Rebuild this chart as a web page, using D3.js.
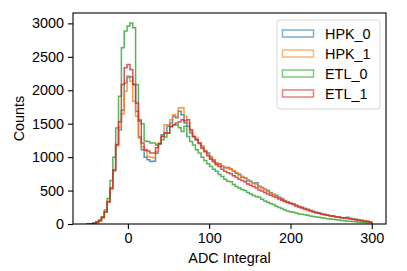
<!DOCTYPE html>
<html>
<head>
<meta charset="utf-8">
<script src="https://cdn.jsdelivr.net/npm/d3@7"></script>
<style>
  body { margin: 0; background: #fff; }
  text { font-family: "Liberation Sans", Arial, sans-serif; }
</style>
</head>
<body>
<svg id="chart" width="407" height="271"></svg>
<script>
// histogram: 100 bins over [-50, 300]
const binStart = -50
const binWidth = 3.5

const seriesNames = ['HPK_0', 'HPK_1', 'ETL_0', 'ETL_1']
const seriesColors = ['#1f77b4', '#ff7f0e', '#2ca02c', '#d62728']

const hpk0 = [
  1, 4, 10, 24, 48, 92, 180, 330, 530, 800,
  1180, 1410, 1700, 2110, 2210, 2200, 2085, 1685, 1300, 1110,
  1000, 960, 935, 940, 1060, 1200, 1335, 1360, 1460, 1510,
  1610, 1590, 1685, 1635, 1510, 1460, 1360, 1310, 1260, 1210,
  1150, 1090, 1060, 990, 950, 905, 900, 860, 840, 845,
  820, 790, 760, 745, 700, 690, 650, 640, 610, 615,
  565, 545, 520, 500, 470, 445, 430, 400, 380, 350,
  330, 310, 300, 280, 260, 250, 230, 220, 205, 190,
  175, 165, 150, 145, 135, 125, 120, 110, 105, 95,
  90, 100, 85, 75, 70, 60, 55, 45, 40, 30
]
const hpk1 = [
  1, 3, 9, 22, 45, 90, 175, 320, 520, 790,
  1170, 1450, 1650, 1985, 2185, 2135, 1835, 1610, 1285, 1160,
  1100, 1010, 1000, 990, 1085, 1210, 1310, 1485, 1480, 1560,
  1635, 1600, 1735, 1740, 1610, 1510, 1390, 1300, 1285, 1200,
  1170, 1100, 1050, 1010, 960, 915, 890, 870, 850, 835,
  830, 800, 770, 730, 715, 690, 660, 630, 605, 590,
  555, 540, 515, 490, 465, 440, 420, 395, 370, 345,
  325, 310, 295, 275, 260, 245, 230, 215, 200, 185,
  170, 160, 150, 140, 130, 125, 115, 110, 100, 95,
  90, 85, 80, 70, 65, 60, 50, 45, 38, 30
]
const etl0 = [
  1, 5, 12, 30, 60, 110, 210, 380, 650, 1000,
  1435, 1910, 2635, 2885, 2960, 3005, 2935, 2085, 1560, 1500,
  1240, 1235, 1210, 1210, 1180, 1200, 1260, 1300, 1360, 1450,
  1485, 1480, 1440, 1385, 1460, 1310, 1235, 1180, 1110, 1060,
  1000, 950, 900, 860, 820, 790, 740, 710, 670, 640,
  630, 590, 560, 540, 515, 500, 470, 450, 425, 410,
  400, 370, 345, 325, 305, 290, 265, 245, 230, 210,
  195, 185, 175, 165, 150, 145, 140, 130, 120, 112,
  105, 100, 92, 86, 80, 74, 70, 64, 58, 52,
  48, 42, 40, 36, 32, 28, 24, 22, 20, 18
]
const etl1 = [
  1, 4, 11, 26, 52, 100, 185, 335, 540, 810,
  1190, 1530, 2085, 2335, 2385, 2310, 2085, 1810, 1540, 1210,
  1110, 1090, 1060, 1060, 1140, 1200, 1310, 1360, 1360, 1460,
  1485, 1510, 1530, 1560, 1540, 1560, 1410, 1310, 1260, 1210,
  1130, 1080, 1020, 970, 930, 885, 860, 820, 790, 765,
  750, 720, 700, 670, 650, 630, 600, 580, 560, 540,
  510, 495, 470, 450, 430, 410, 395, 375, 355, 335,
  320, 305, 290, 270, 255, 240, 225, 210, 195, 180,
  170, 160, 150, 140, 130, 122, 115, 108, 100, 95,
  88, 84, 78, 70, 62, 55, 50, 42, 36, 28
]
const seriesValues = [hpk0, hpk1, etl0, etl1]

const xTicks = [0, 100, 200, 300]
const yTicks = [0, 500, 1000, 1500, 2000, 2500, 3000]

const width = 407
const height = 271
const margin = { top: 13, right: 21, bottom: 47, left: 73 }

const svg = d3.select('#chart')

const binEnd = binStart + binWidth * hpk0.length
const pad = (binEnd - binStart) * 0.05
const yMax = d3.max(seriesValues, s => d3.max(s)) * 1.05

const xScale = d3.scaleLinear()
  .domain([binStart - pad, binEnd + pad])
  .range([margin.left, width - margin.right])

const yScale = d3.scaleLinear()
  .domain([0, yMax])
  .range([height - margin.bottom, margin.top])

// step outline like matplotlib histtype='step'
function stepPoints (vals) {
  const pts = [[binStart, 0]]
  vals.forEach((v, i) => {
    pts.push([binStart + i * binWidth, v])
    pts.push([binStart + (i + 1) * binWidth, v])
  })
  pts.push([binEnd, 0])
  return pts
}

const line = d3.line()
  .x(d => xScale(d[0]))
  .y(d => yScale(d[1]))

svg.append('defs').append('clipPath').attr('id', 'clip')
  .append('rect')
  .attr('x', margin.left).attr('y', margin.top)
  .attr('width', width - margin.left - margin.right)
  .attr('height', height - margin.top - margin.bottom)

svg.append('g').attr('clip-path', 'url(#clip)')
  .selectAll('path')
  .data(seriesValues)
  .join('path')
  .attr('d', d => line(stepPoints(d)))
  .attr('fill', 'none')
  .attr('stroke', (d, i) => seriesColors[i])
  .attr('stroke-opacity', 0.8)
  .attr('stroke-width', 1.5)
  .attr('stroke-linejoin', 'miter')

const xAxis = d3.axisBottom(xScale)
  .tickValues(xTicks)
  .tickFormat(d3.format('d'))
  .tickSize(5)
  .tickPadding(4)
  .tickSizeOuter(0)

const yAxis = d3.axisLeft(yScale)
  .tickValues(yTicks)
  .tickFormat(d3.format('d'))
  .tickSize(5)
  .tickPadding(4)
  .tickSizeOuter(0)

function styleAxis (g) {
  g.select('.domain').remove()
  g.selectAll('.tick line').attr('stroke', '#000').attr('stroke-width', 1.1)
  g.selectAll('.tick text')
    .attr('fill', '#000')
    .style('font-size', '14.4px')
    .style('font-family', '"Liberation Sans", Arial, sans-serif')
}

svg.append('g')
  .attr('transform', `translate(0,${height - margin.bottom})`)
  .call(xAxis)
  .call(styleAxis)

svg.append('g')
  .attr('transform', `translate(${margin.left},0)`)
  .call(yAxis)
  .call(styleAxis)

// frame
svg.append('rect')
  .attr('x', margin.left)
  .attr('y', margin.top)
  .attr('width', width - margin.left - margin.right)
  .attr('height', height - margin.top - margin.bottom)
  .attr('fill', 'none')
  .attr('stroke', '#000')
  .attr('stroke-width', 1.1)

svg.append('text')
  .attr('x', (margin.left + width - margin.right) / 2)
  .attr('y', 263)
  .attr('text-anchor', 'middle')
  .style('font-size', '14.4px')
  .text('ADC Integral')

svg.append('text')
  .attr('transform', `translate(24,${(margin.top + height - margin.bottom) / 2}) rotate(-90)`)
  .attr('text-anchor', 'middle')
  .style('font-size', '14.4px')
  .text('Counts')

// legend
const legend = svg.append('g').attr('transform', 'translate(277,20)')
legend.append('rect')
  .attr('width', 103).attr('height', 89)
  .attr('rx', 3)
  .attr('fill', '#fff').attr('fill-opacity', 0.8)
  .attr('stroke', '#d5d5d5').attr('stroke-width', 1)

const items = legend.selectAll('.item')
  .data(seriesNames)
  .join('g')
  .attr('class', 'item')
  .attr('transform', (d, i) => `translate(0,${13.5 + i * 20})`)

items.append('rect')
  .attr('x', 5.5).attr('y', -3.5)
  .attr('width', 31).attr('height', 7)
  .attr('fill', 'none')
  .attr('stroke', (d, i) => seriesColors[i])
  .attr('stroke-opacity', 0.6)
  .attr('stroke-width', 1.5)

items.append('text')
  .attr('x', 48).attr('y', 5)
  .style('font-size', '14.4px')
  .text(d => d)
</script>
</body>
</html>
